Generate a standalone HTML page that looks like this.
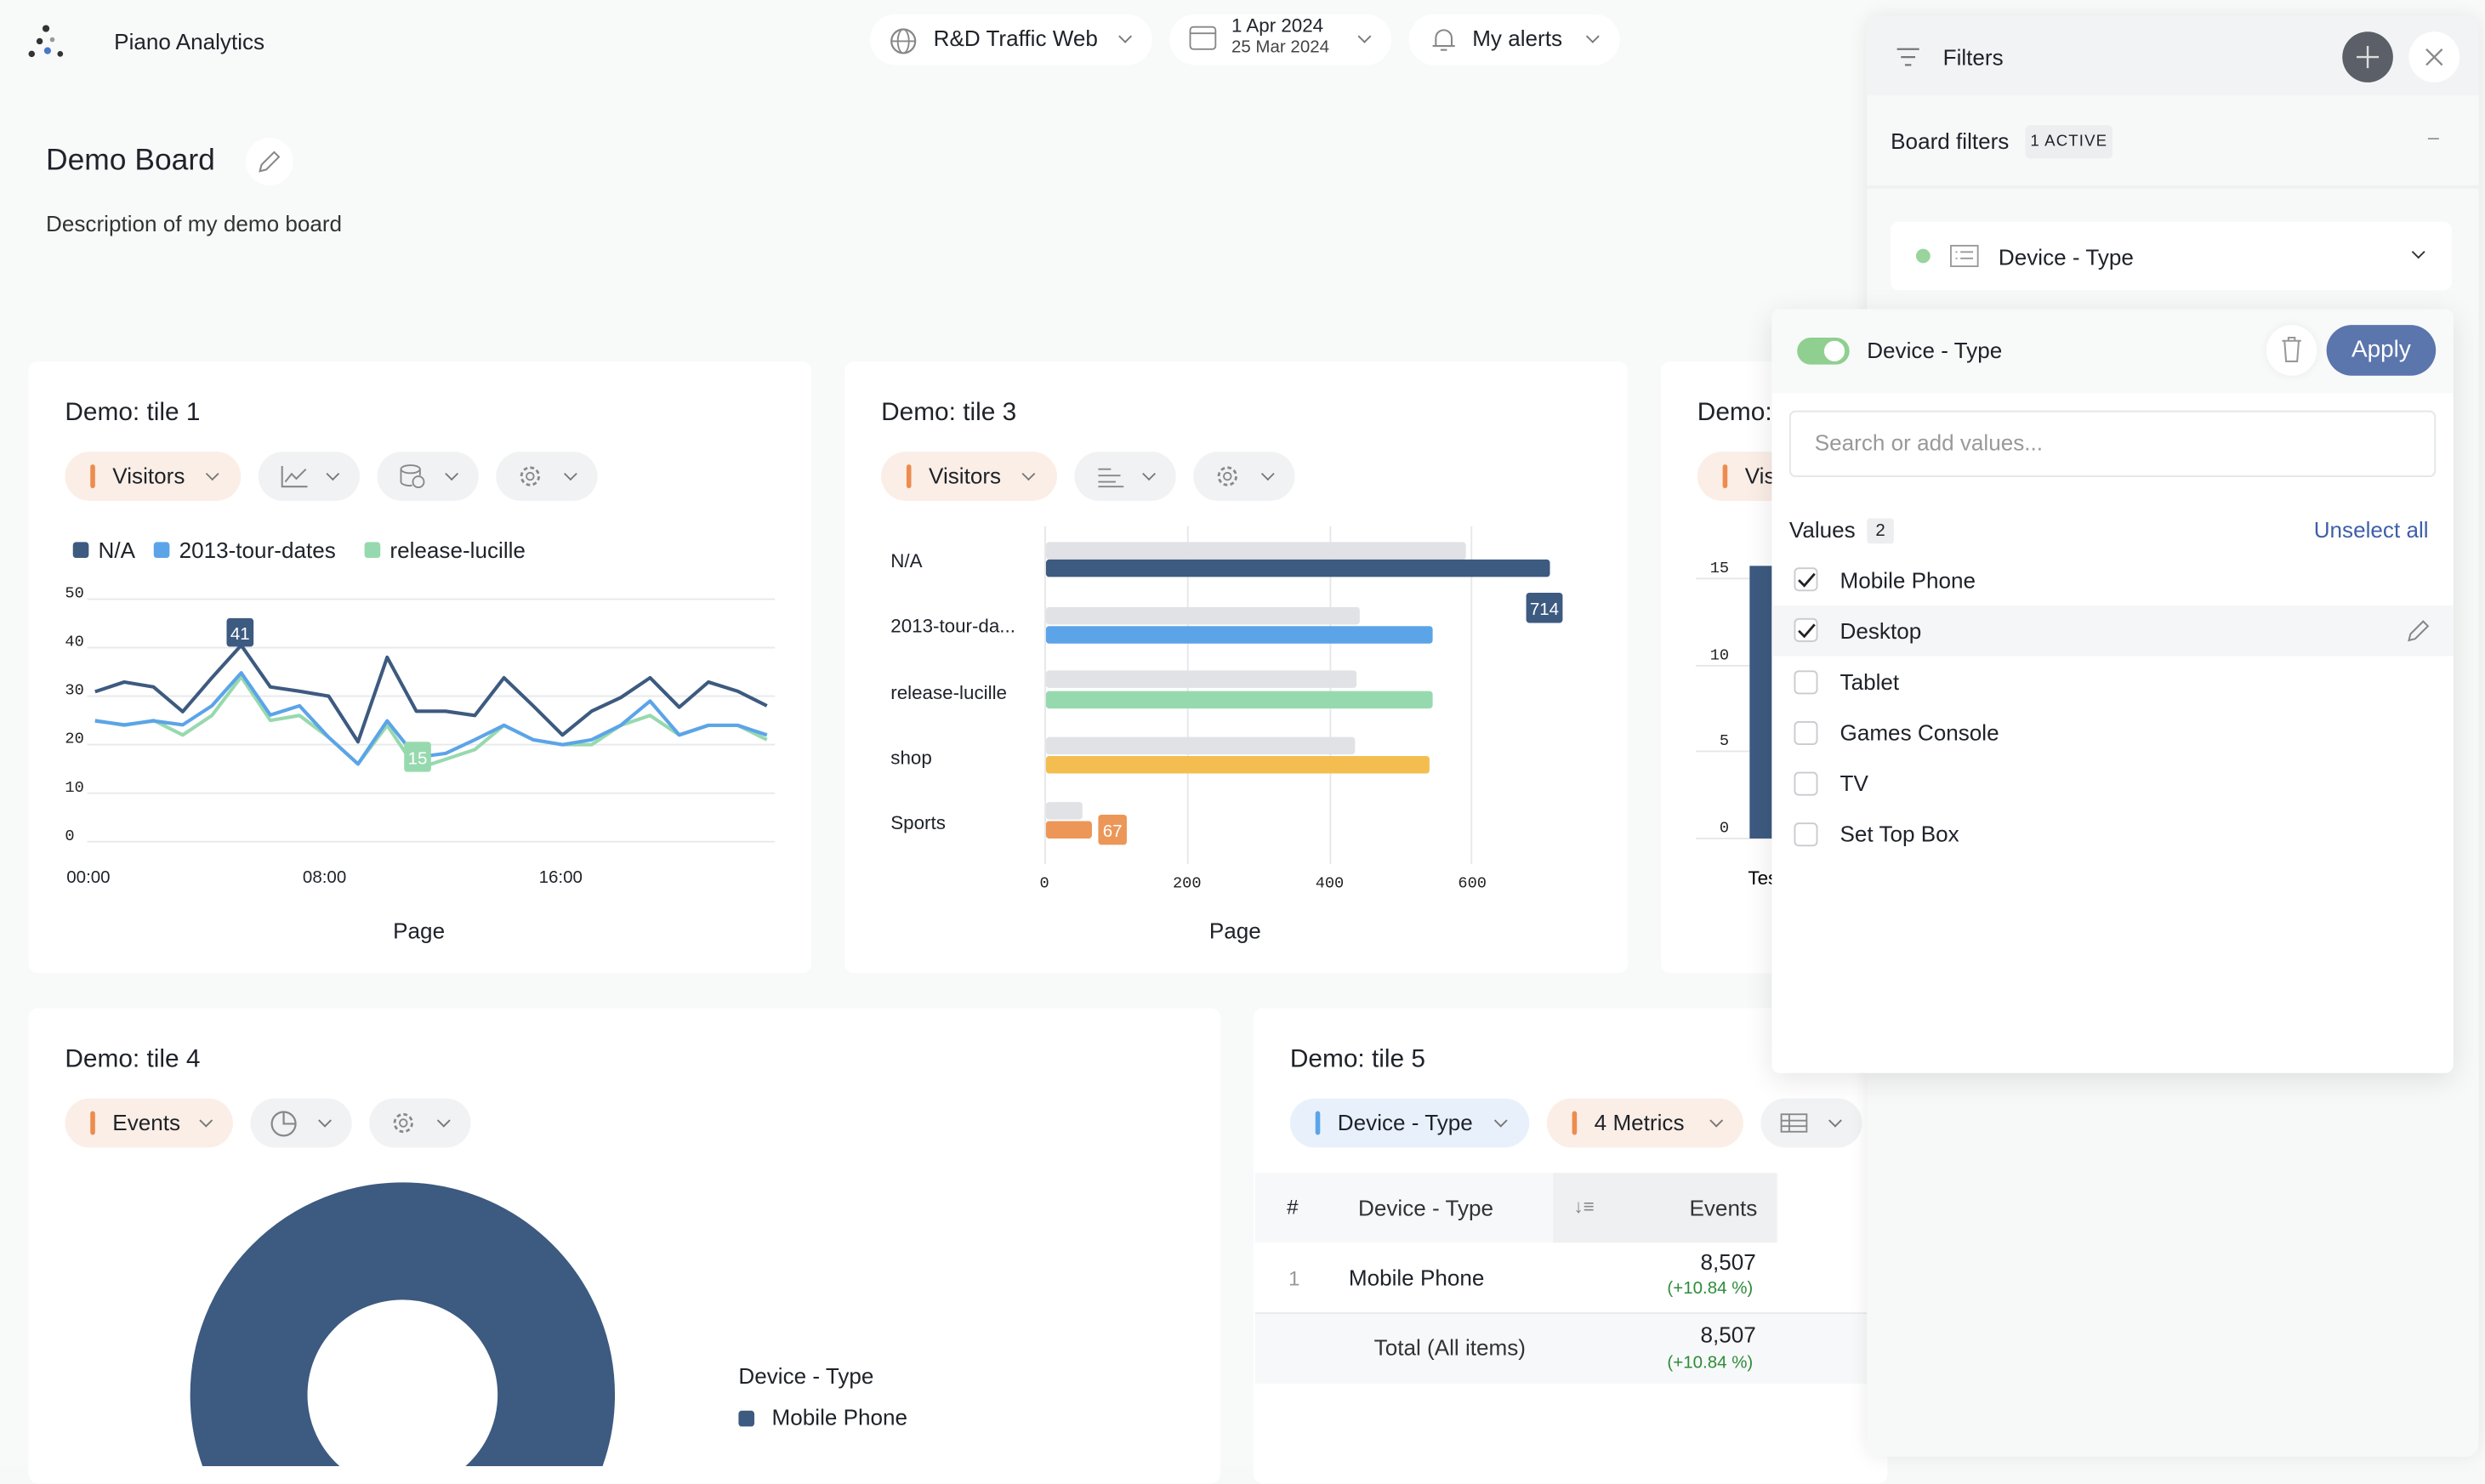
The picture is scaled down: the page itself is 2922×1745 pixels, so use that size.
<!DOCTYPE html>
<html><head><meta charset="utf-8"><style>
*{box-sizing:border-box;margin:0;padding:0}
html,body{width:2922px;height:1724px;overflow:hidden;background:#f7f8f8}
#w{position:absolute;left:0;top:0;width:1568px;height:925px;transform:scale(1.8635,1.8638);transform-origin:0 0;font-family:"Liberation Sans",sans-serif;color:#1e2229;background:#f8f9f9}
.a{position:absolute}
.tile{position:absolute;background:#fff;border-radius:6px}
.tt{position:absolute;font-size:16px;color:#1e2229}
.pill{position:absolute;height:31px;border-radius:16px;background:#f1f2f3;font-size:14px;line-height:31px;padding-left:30px;color:#1e2229}
.pill.o{background:#fbeee6}
.pill .bar{position:absolute;left:16px;top:8px;width:3px;height:15px;border-radius:2px;background:#ec8c4f}
.chev{position:absolute;width:6px;height:6px;border-right:1.3px solid #777;border-bottom:1.3px solid #777;transform:rotate(45deg)}
.cb{position:absolute;left:1132px;width:15px;height:15px;border:1px solid #c9cbcf;border-radius:3px;background:#fff}
.lbl{position:absolute;left:1161px;font-size:14px}
</style></head><body><div id="w">
<svg class="a" style="left:16px;top:14px" width="26" height="24"><circle cx="13" cy="4" r="2.2" fill="#333"/><circle cx="9" cy="12" r="2" fill="#333"/><circle cx="4" cy="20" r="2" fill="#333"/><circle cx="14" cy="18" r="2.2" fill="#4a78c8"/><circle cx="22" cy="20" r="1.8" fill="#333"/><circle cx="17" cy="11" r="1.5" fill="#999"/></svg>
<div class="a" style="left:72px;top:18px;font-size:14px">Piano Analytics</div>
<div class="a" style="left:549px;top:9px;width:178px;height:32px;background:#fff;border-radius:16px"></div>
<svg class="a" style="left:561px;top:17px" width="18" height="18"><circle cx="9" cy="9" r="7.5" fill="none" stroke="#888" stroke-width="1.2"/><ellipse cx="9" cy="9" rx="3.5" ry="7.5" fill="none" stroke="#888" stroke-width="1"/><line x1="1.5" y1="9" x2="16.5" y2="9" stroke="#888"/></svg>
<div class="a" style="left:589px;top:16px;font-size:14px">R&amp;D Traffic Web</div>
<div class="chev" style="left:707px;top:20px"></div>
<div class="a" style="left:738px;top:9px;width:140px;height:32px;background:#fff;border-radius:16px"></div>
<svg class="a" style="left:750px;top:16px" width="18" height="16"><rect x="1" y="1" width="16" height="14" rx="2" fill="none" stroke="#888"/><line x1="1" y1="5" x2="17" y2="5" stroke="#888"/></svg>
<div class="a" style="left:777px;top:10px;font-size:12px;line-height:13px">1 Apr 2024<br><span style="font-size:11px;color:#444">25 Mar 2024</span></div>
<div class="chev" style="left:858px;top:20px"></div>
<div class="a" style="left:889px;top:9px;width:133px;height:32px;background:#fff;border-radius:16px"></div>
<svg class="a" style="left:902px;top:16px" width="18" height="18"><path d="M4 13 V8 a5 5 0 0 1 10 0 V13 H4 Z M2 13 H16 M7 15.5 H11" fill="none" stroke="#888" stroke-width="1.1"/></svg>
<div class="a" style="left:929px;top:16px;font-size:14px">My alerts</div>
<div class="chev" style="left:1002px;top:20px"></div>

<div class="a" style="left:29px;top:91px;font-size:19px">Demo Board</div>
<div class="a" style="left:155px;top:87px;width:30px;height:30px;border-radius:15px;background:#fff"></div>
<svg class="a" style="left:162px;top:94px" width="16" height="16"><path d="M2 14 L3 10 L11 2 L14 5 L6 13 Z" fill="none" stroke="#888" stroke-width="1.1"/></svg>
<div class="a" style="left:29px;top:133px;font-size:14px;color:#333">Description of my demo board</div>

<div class="tile" style="left:18px;top:228px;width:494px;height:386px"></div>
<div class="tt" style="left:41px;top:252px">Demo: tile 1</div>
<div class="pill o" style="left:41px;top:285px;width:111px"><div class="bar"></div>Visitors<div class="chev" style="left:90px;top:11px"></div></div>
<div class="pill" style="left:163px;top:285px;width:64px"><svg class="a" style="left:14px;top:8px" width="18" height="15"><path d="M1 1 V14 H17 M3 11 L7 6 L10 9 L16 3" fill="none" stroke="#888" stroke-width="1.1"/></svg><div class="chev" style="left:44px;top:11px"></div></div>
<div class="pill" style="left:238px;top:285px;width:64px"><svg class="a" style="left:13px;top:7px" width="18" height="17"><ellipse cx="8" cy="4" rx="6" ry="2.5" fill="none" stroke="#888"/><path d="M2 4 V12 C2 14 8 15 9 14 M14 4 V8" fill="none" stroke="#888"/><circle cx="13" cy="12" r="3.5" fill="none" stroke="#888"/></svg><div class="chev" style="left:44px;top:11px"></div></div>
<div class="pill" style="left:313px;top:285px;width:64px"><svg class="a" style="left:13px;top:7px" width="17" height="17"><circle cx="8.5" cy="8.5" r="5.5" fill="none" stroke="#888" stroke-width="1.5" stroke-dasharray="2.5 1.8"/><circle cx="8.5" cy="8.5" r="2.3" fill="none" stroke="#888"/></svg><div class="chev" style="left:44px;top:11px"></div></div>
<div class="a" style="left:46px;top:342px;width:10px;height:10px;border-radius:2px;background:#3d5a80"></div>
<div class="a" style="left:62px;top:339px;font-size:14px">N/A</div>
<div class="a" style="left:97px;top:342px;width:10px;height:10px;border-radius:2px;background:#5ca4e8"></div>
<div class="a" style="left:113px;top:339px;font-size:14px">2013-tour-dates</div>
<div class="a" style="left:230px;top:342px;width:10px;height:10px;border-radius:2px;background:#97d9ae"></div>
<div class="a" style="left:246px;top:339px;font-size:14px">release-lucille</div>
<svg class="a" style="left:0;top:0" width="520" height="620" id="lc"></svg>
<div class="a" style="left:42px;top:548px;font-size:11px">00:00</div>
<div class="a" style="left:191px;top:548px;font-size:11px">08:00</div>
<div class="a" style="left:340px;top:548px;font-size:11px">16:00</div>
<div class="a" style="left:248px;top:579px;font-size:14px">Page</div>

<div class="tile" style="left:533px;top:228px;width:494px;height:386px"></div>
<div class="tt" style="left:556px;top:252px">Demo: tile 3</div>
<div class="pill o" style="left:556px;top:285px;width:111px"><div class="bar"></div>Visitors<div class="chev" style="left:90px;top:11px"></div></div>
<div class="pill" style="left:678px;top:285px;width:64px"><svg class="a" style="left:14px;top:9px" width="18" height="14"><path d="M1 2 H9 M1 6 H15 M1 10 H12 M1 13 H17" stroke="#888"/></svg><div class="chev" style="left:44px;top:11px"></div></div>
<div class="pill" style="left:753px;top:285px;width:64px"><svg class="a" style="left:13px;top:7px" width="17" height="17"><circle cx="8.5" cy="8.5" r="5.5" fill="none" stroke="#888" stroke-width="1.5" stroke-dasharray="2.5 1.8"/><circle cx="8.5" cy="8.5" r="2.3" fill="none" stroke="#888"/></svg><div class="chev" style="left:44px;top:11px"></div></div>
<svg class="a" style="left:0;top:0" width="1040" height="620">
<g stroke="#e6e7e9" stroke-width="1"><line x1="659.5" y1="332" x2="659.5" y2="545"/><line x1="749.5" y1="332" x2="749.5" y2="545"/><line x1="839.5" y1="332" x2="839.5" y2="545"/><line x1="928.5" y1="332" x2="928.5" y2="545"/></g>
<g fill="#e1e2e5"><rect x="660" y="342" width="265" height="11" rx="2"/><rect x="660" y="383" width="198" height="11" rx="2"/><rect x="660" y="423" width="196" height="11" rx="2"/><rect x="660" y="465" width="195" height="11" rx="2"/><rect x="660" y="506" width="23" height="11" rx="2"/></g>
<rect x="660" y="353" width="318" height="11" rx="2" fill="#3d5a80"/>
<rect x="660" y="395" width="244" height="11" rx="2" fill="#5ca4e8"/>
<rect x="660" y="436" width="244" height="11" rx="2" fill="#97d9ae"/>
<rect x="660" y="477" width="242" height="11" rx="2" fill="#f3bd50"/>
<rect x="660" y="518" width="29" height="11" rx="2" fill="#ec9658"/>
<rect x="963" y="374" width="23" height="19" rx="2" fill="#3d5a80"/><text x="974.5" y="388" fill="#fff" font-size="11" text-anchor="middle" font-family="Liberation Sans">714</text>
<rect x="693" y="514" width="18" height="19" rx="2" fill="#ec9658"/><text x="702" y="528" fill="#fff" font-size="11" text-anchor="middle" font-family="Liberation Sans">67</text>
<g font-family="Liberation Mono" font-size="10" fill="#222" text-anchor="middle"><text x="659" y="560">0</text><text x="749" y="560">200</text><text x="839" y="560">400</text><text x="929" y="560">600</text></g>
<g font-family="Liberation Sans" font-size="12" fill="#1e2229"><text x="562" y="358">N/A</text><text x="562" y="399">2013-tour-da...</text><text x="562" y="441">release-lucille</text><text x="562" y="482">shop</text><text x="562" y="523">Sports</text></g>
</svg>
<div class="a" style="left:763px;top:579px;font-size:14px">Page</div>

<div class="tile" style="left:1048px;top:228px;width:90px;height:386px"></div>
<div class="tt" style="left:1071px;top:252px">Demo:</div>
<div class="pill o" style="left:1071px;top:285px;width:60px"><div class="bar"></div>Vis</div>
<svg class="a" style="left:1060px;top:340px" width="70" height="220"><g stroke="#e6e7e9"><line x1="10" y1="25" x2="60" y2="25"/><line x1="10" y1="80" x2="60" y2="80"/><line x1="10" y1="134" x2="60" y2="134"/><line x1="10" y1="189" x2="60" y2="189"/></g><rect x="44" y="17" width="14" height="172" fill="#3d5a80"/><g font-family="Liberation Mono" font-size="10" fill="#222"><text x="19" y="21">15</text><text x="19" y="76">10</text><text x="25" y="130">5</text><text x="25" y="185">0</text></g><text x="43" y="218" font-family="Liberation Sans" font-size="12">Tes</text></svg>

<div class="tile" style="left:18px;top:636px;width:752px;height:300px"></div>
<div class="tt" style="left:41px;top:660px">Demo: tile 4</div>
<div class="pill o" style="left:41px;top:693px;width:106px"><div class="bar"></div>Events<div class="chev" style="left:86px;top:11px"></div></div>
<div class="pill" style="left:158px;top:693px;width:64px"><svg class="a" style="left:12px;top:7px" width="18" height="18"><circle cx="9" cy="9" r="7.5" fill="none" stroke="#888" stroke-width="1.2"/><path d="M9 1.5 V9 H16.5" fill="none" stroke="#888" stroke-width="1.2"/></svg><div class="chev" style="left:44px;top:11px"></div></div>
<div class="pill" style="left:233px;top:693px;width:64px"><svg class="a" style="left:13px;top:7px" width="17" height="17"><circle cx="8.5" cy="8.5" r="5.5" fill="none" stroke="#888" stroke-width="1.5" stroke-dasharray="2.5 1.8"/><circle cx="8.5" cy="8.5" r="2.3" fill="none" stroke="#888"/></svg><div class="chev" style="left:44px;top:11px"></div></div>
<svg class="a" style="left:0;top:700px" width="770" height="225"><circle cx="254" cy="180" r="97" fill="none" stroke="#3d5a80" stroke-width="74"/></svg>
<div class="a" style="left:466px;top:860px;font-size:14px">Device - Type</div>
<div class="a" style="left:466px;top:890px;width:10px;height:10px;border-radius:2px;background:#3d5a80"></div>
<div class="a" style="left:487px;top:886px;font-size:14px">Mobile Phone</div>

<div class="tile" style="left:791px;top:636px;width:400px;height:300px"></div>
<div class="tt" style="left:814px;top:660px">Demo: tile 5</div>
<div class="pill" style="left:814px;top:693px;width:151px;background:#e8f1fb"><div class="bar" style="background:#5ca4e8"></div>Device - Type<div class="chev" style="left:130px;top:11px"></div></div>
<div class="pill o" style="left:976px;top:693px;width:124px"><div class="bar"></div>4 Metrics<div class="chev" style="left:104px;top:11px"></div></div>
<div class="pill" style="left:1111px;top:693px;width:64px"><svg class="a" style="left:12px;top:9px" width="18" height="13"><rect x="1" y="1" width="16" height="11" fill="none" stroke="#888"/><path d="M1 5 H17 M1 8.5 H17 M6 1 V12" stroke="#888"/></svg><div class="chev" style="left:44px;top:11px"></div></div>
<div class="a" style="left:792px;top:740px;width:330px;height:44px;background:#f7f8f9"></div>
<div class="a" style="left:980px;top:740px;width:141px;height:44px;background:#eef0f2"></div>
<div class="a" style="left:812px;top:754px;font-size:13px">#</div>
<div class="a" style="left:857px;top:754px;font-size:14px;color:#333">Device - Type</div>
<div class="a" style="left:993px;top:754px;font-size:12px;color:#888">↓≡</div>
<div class="a" style="left:1066px;top:754px;font-size:14px;color:#333">Events</div>
<div class="a" style="left:813px;top:799px;font-size:13px;color:#999">1</div>
<div class="a" style="left:851px;top:798px;font-size:14px">Mobile Phone</div>
<div class="a" style="left:1073px;top:788px;font-size:14px">8,507</div>
<div class="a" style="left:1052px;top:807px;font-size:11px;color:#2e8b3a">(+10.84 %)</div>
<div class="a" style="left:792px;top:828px;width:400px;height:1px;background:#e8e9eb"></div>
<div class="a" style="left:792px;top:829px;width:400px;height:44px;background:#f7f8f9"></div>
<div class="a" style="left:867px;top:842px;font-size:14px;color:#333">Total (All items)</div>
<div class="a" style="left:1073px;top:834px;font-size:14px">8,507</div>
<div class="a" style="left:1052px;top:854px;font-size:11px;color:#2e8b3a">(+10.84 %)</div>

<div class="a" style="left:1178px;top:10px;width:386px;height:909px;background:#f7f8f8;border-radius:8px;box-shadow:0 0 12px rgba(0,0,0,.08)"></div>
<div class="a" style="left:1178px;top:10px;width:386px;height:50px;background:#f2f3f4;border-radius:8px 8px 0 0"></div>
<svg class="a" style="left:1196px;top:29px" width="16" height="14"><path d="M1 2 H15 M3.5 7 H12.5 M6 12 H10" stroke="#777" stroke-width="1.2"/></svg>
<div class="a" style="left:1226px;top:28px;font-size:14px">Filters</div>
<div class="a" style="left:1478px;top:20px;width:32px;height:32px;border-radius:16px;background:#5a5f68"></div>
<svg class="a" style="left:1486px;top:28px" width="16" height="16"><path d="M8 1 V15 M1 8 H15" stroke="#ddd" stroke-width="1.3"/></svg>
<div class="a" style="left:1520px;top:20px;width:32px;height:32px;border-radius:16px;background:#fff"></div>
<svg class="a" style="left:1530px;top:30px" width="12" height="12"><path d="M1 1 L11 11 M11 1 L1 11" stroke="#888" stroke-width="1.2"/></svg>
<div class="a" style="left:1193px;top:81px;font-size:14px">Board filters</div>
<div class="a" style="left:1278px;top:79px;width:55px;height:21px;background:#eceef0;border-radius:3px;font-size:10px;line-height:22px;text-align:center;letter-spacing:.6px">1 ACTIVE</div>
<div class="a" style="left:1532px;top:87px;width:7px;height:1px;background:#999"></div>
<div class="a" style="left:1178px;top:117px;width:386px;height:2px;background:#eef0f1"></div>
<div class="a" style="left:1193px;top:140px;width:354px;height:43px;background:#fff;border-radius:5px"></div>
<div class="a" style="left:1209px;top:157px;width:9px;height:9px;border-radius:5px;background:#98d49c"></div>
<svg class="a" style="left:1230px;top:154px" width="19" height="15"><rect x="1" y="1" width="17" height="13" fill="none" stroke="#999"/><path d="M4 5 H5 M4 9 H5 M7 5 H15 M7 9 H15" stroke="#999"/></svg>
<div class="a" style="left:1261px;top:154px;font-size:14px">Device - Type</div>
<div class="chev" style="left:1523px;top:156px;border-color:#333"></div>

<div class="a" style="left:1118px;top:195px;width:430px;height:482px;background:#fff;border-radius:5px;box-shadow:0 4px 18px rgba(0,0,0,.1)"></div>
<div class="a" style="left:1118px;top:195px;width:430px;height:53px;background:#f8f9f9;border-radius:5px 5px 0 0"></div>
<div class="a" style="left:1134px;top:213px;width:33px;height:17px;border-radius:9px;background:#8fcf8f"></div>
<div class="a" style="left:1151px;top:215px;width:13px;height:13px;border-radius:7px;background:#fff"></div>
<div class="a" style="left:1178px;top:213px;font-size:14px">Device - Type</div>
<div class="a" style="left:1430px;top:205px;width:32px;height:32px;border-radius:16px;background:#fff;box-shadow:0 0 6px rgba(0,0,0,.06)"></div>
<svg class="a" style="left:1439px;top:212px" width="14" height="17"><path d="M1 3 H13 M5 3 V1 H9 V3 M2.5 3 L3.5 16 H10.5 L11.5 3" fill="none" stroke="#999" stroke-width="1.1"/></svg>
<div class="a" style="left:1468px;top:205px;width:69px;height:32px;border-radius:16px;background:#5b75ad;color:#fff;font-size:15px;line-height:31px;text-align:center">Apply</div>
<div class="a" style="left:1129px;top:259px;width:408px;height:42px;border:1.5px solid #e3e5e7;border-radius:4px"></div>
<div class="a" style="left:1145px;top:271px;font-size:14px;color:#999">Search or add values...</div>
<div class="a" style="left:1129px;top:326px;font-size:14px">Values</div>
<div class="a" style="left:1178px;top:327px;width:17px;height:16px;background:#eceef0;border-radius:2px;font-size:11px;text-align:center;line-height:17px">2</div>
<div class="a" style="left:1460px;top:326px;font-size:14px;color:#3f5fa8">Unselect all</div>
<div class="a" style="left:1118px;top:382px;width:430px;height:32px;background:#f5f6f7"></div>
<div class="cb" style="top:358px"></div><svg class="a" style="left:1134px;top:361px" width="12" height="10"><path d="M1 5 L4.5 8.5 L11 1" fill="none" stroke="#222" stroke-width="1.5"/></svg>
<div class="cb" style="top:390px"></div><svg class="a" style="left:1134px;top:393px" width="12" height="10"><path d="M1 5 L4.5 8.5 L11 1" fill="none" stroke="#222" stroke-width="1.5"/></svg>
<div class="cb" style="top:423px"></div><div class="cb" style="top:455px"></div><div class="cb" style="top:487px"></div><div class="cb" style="top:519px"></div>
<div class="lbl" style="top:358px">Mobile Phone</div>
<div class="lbl" style="top:390px">Desktop</div>
<svg class="a" style="left:1518px;top:390px" width="16" height="16"><path d="M2 14 L3 10 L11 2 L14 5 L6 13 Z" fill="none" stroke="#888" stroke-width="1.1"/></svg>
<div class="lbl" style="top:422px">Tablet</div>
<div class="lbl" style="top:454px">Games Console</div>
<div class="lbl" style="top:486px">TV</div>
<div class="lbl" style="top:518px">Set Top Box</div>
</div>
<script>
var s=document.getElementById('lc'),h='';
[50,40,30,20,10,0].forEach(function(v){var y=531-v*3.06;h+='<line x1="55" y1="'+y+'" x2="489" y2="'+y+'" stroke="#e8e9eb"/>';h+='<text x="41" y="'+(y-1)+'" font-family="Liberation Mono" font-size="10" fill="#222">'+v+'</text>';});
function pl(a,c){var p=a.map(function(v,i){return (60+i*18.43).toFixed(1)+','+(531-v*3.06).toFixed(1)}).join(' ');return '<polyline points="'+p+'" fill="none" stroke="'+c+'" stroke-width="2.2" stroke-linejoin="round"/>';}
h+=pl([25,24,25,22,26,34,25,26,21.5,16,24,15,17,19,24,21,20,20,24,26,22,24,24,21],'#97d9ae');
h+=pl([24.9,24.1,24.9,24.1,28,34.8,26.1,28,21.5,16,24.9,17.4,18.2,21,24,21,20,21,24,29,22,24,24,22],'#5ca4e8');
h+=pl([30.9,32.9,31.9,26.8,33.8,40.5,31.9,31,30,20.6,38,26.9,26.9,26,33.8,28,22,26.9,29.7,33.8,27.7,32.9,31,28],'#3d5a80');
h+='<rect x="143" y="390" width="17" height="18" rx="2" fill="#3d5a80"/><text x="151.5" y="403.5" fill="#fff" font-size="11" text-anchor="middle" font-family="Liberation Sans">41</text>';
h+='<rect x="255" y="468" width="17" height="19" rx="2" fill="#97d9ae"/><text x="263.5" y="482" fill="#fff" font-size="11" text-anchor="middle" font-family="Liberation Sans">15</text>';
s.innerHTML=h;
</script>
</body></html>
